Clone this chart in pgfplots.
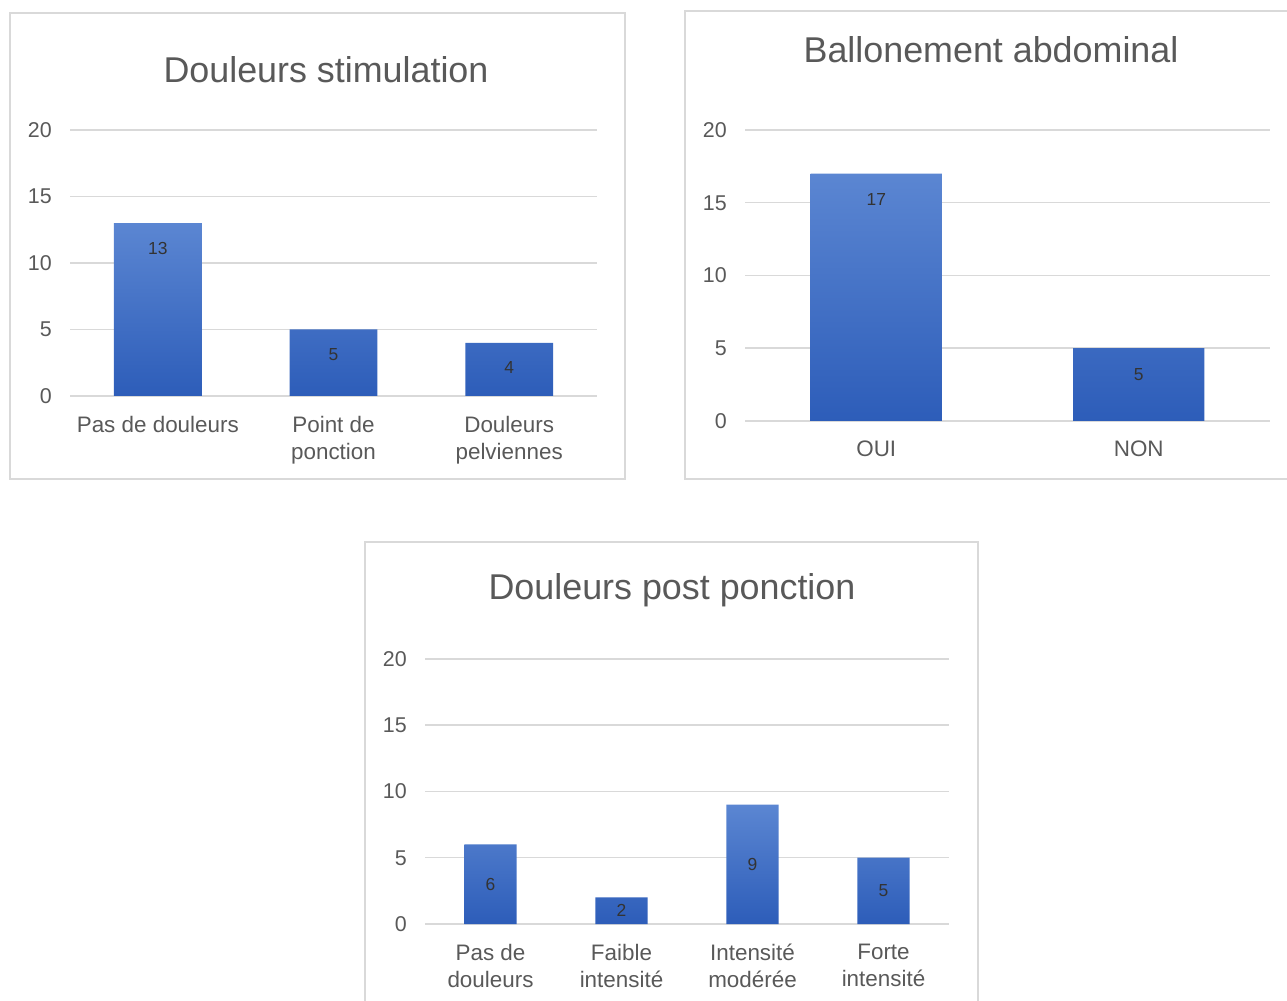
\documentclass[border=0pt]{standalone}
\usepackage{fontspec}
\setmainfont{Liberation Sans}
\usepackage{pgfplots}
\pgfplotsset{compat=1.18}
\definecolor{txt}{HTML}{595959}
\definecolor{gridc}{HTML}{D9D9D9}
\definecolor{framec}{HTML}{D9D9D9}
\definecolor{bartop}{HTML}{5B86D2}
\definecolor{barbot}{HTML}{2D5DB9}
\definecolor{lbl}{HTML}{333333}
\pgfplotsset{
  panel/.style={
    scale only axis,
    anchor=south west,
    /pgf/number format/assume math mode=true,
    ymin=0, ymax=20,
    ytick={0,5,10,15,20},
    axis line style={draw=none},
    ymajorgrids,
    grid style={gridc, line width=1.5bp},
    major tick style={draw=none},
    xtick={0,...,5},
    yticklabel style={font=\fontsize{21.5}{25}\selectfont, text=txt, anchor=east, inner sep=0pt, xshift=-18bp},
    xticklabel style={font=\fontsize{22.5}{27}\selectfont, text=txt, align=center, anchor=north, inner sep=0pt, yshift=-20bp},
    clip=false,
  },
  barsty/.style={ybar, draw=none, top color=bartop, bottom color=barbot,
    nodes near coords,
    every node near coord/.append style={font=\fontsize{17.5}{20}\selectfont, text=lbl}},
}
\begin{document}
\begin{tikzpicture}
\path[use as bounding box] (0,0) rectangle (1287bp,1001bp);
% frames
\draw[framec, line width=1.5bp] (10bp,522bp) rectangle (625bp,988bp);
\draw[framec, line width=1.5bp] (1300bp,522bp) -- (685bp,522bp) -- (685bp,990bp) -- (1300bp,990bp);
\draw[framec, line width=1.5bp] (365bp,-10bp) -- (365bp,459bp) -- (978bp,459bp) -- (978bp,-10bp);
% titles
\node[text=txt, font=\fontsize{36}{40}\selectfont] at (326bp,931bp) {Douleurs stimulation};
\node[text=txt, font=\fontsize{36}{40}\selectfont] at (991bp,951bp) {Ballonement abdominal};
\node[text=txt, font=\fontsize{36}{40}\selectfont] at (672bp,411bp) {Douleurs post ponction};

\begin{axis}[panel, at={(70bp,605bp)}, width=527bp, height=266bp,
  xmin=-0.5, xmax=2.5,
  xticklabels={Pas de douleurs, {Point de\\ponction}, {Douleurs\\pelviennes}}]
\addplot[barsty, bar width=0.5,
  every node near coord/.append style={anchor=center, yshift=-25bp}]
  coordinates {(0,13) (1,5) (2,4)};
\end{axis}

\begin{axis}[panel, at={(745bp,580bp)}, width=525bp, height=291bp,
  xmin=-0.5, xmax=1.5,
  xticklabels={OUI, NON}]
\addplot[barsty, bar width=0.5,
  every node near coord/.append style={anchor=center, yshift=-26bp}]
  coordinates {(0,17) (1,5)};
\end{axis}

\begin{axis}[panel, at={(425bp,77bp)}, width=524bp, height=265bp,
  xmin=-0.5, xmax=3.5,
  xticklabels={{Pas de\\douleurs}, {Faible\\intensité}, {Intensité\\modérée}, {Forte\\intensité}}]
\addplot[barsty, bar width=0.4,
  visualization depends on=y \as \rawy,
  every node near coord/.append style={anchor=center, shift={(axis direction cs:0,-\rawy/2)}}]
  coordinates {(0,6) (1,2) (2,9) (3,5)};
\end{axis}
\end{tikzpicture}
\end{document}
